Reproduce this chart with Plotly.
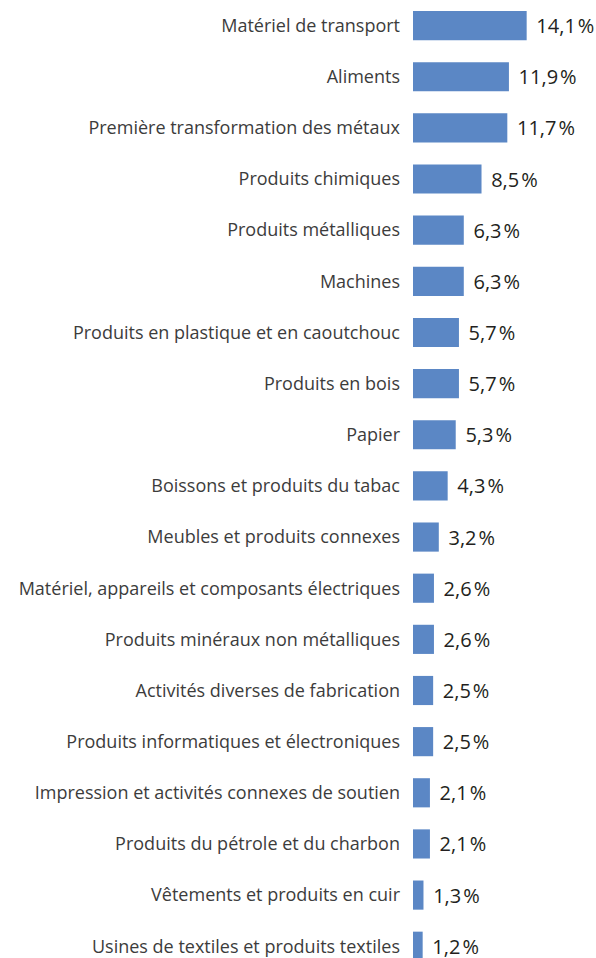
import plotly.graph_objects as go

categories = [
    "Matériel de transport",
    "Aliments",
    "Première transformation des métaux",
    "Produits chimiques",
    "Produits métalliques",
    "Machines",
    "Produits en plastique et en caoutchouc",
    "Produits en bois",
    "Papier",
    "Boissons et produits du tabac",
    "Meubles et produits connexes",
    "Matériel, appareils et composants électriques",
    "Produits minéraux non métalliques",
    "Activités diverses de fabrication",
    "Produits informatiques et électroniques",
    "Impression et activités connexes de soutien",
    "Produits du pétrole et du charbon",
    "Vêtements et produits en cuir",
    "Usines de textiles et produits textiles",
]
shares = [14.1, 11.9, 11.7, 8.5, 6.3, 6.3, 5.7, 5.7, 5.3, 4.3,
          3.2, 2.6, 2.6, 2.5, 2.5, 2.1, 2.1, 1.3, 1.2]

labels = ["\u2004" + f"{v:.1f}".replace(".", ",") + "\u200a%" for v in shares]

fig = go.Figure(
    go.Bar(
        x=shares,
        y=categories,
        orientation="h",
        marker=dict(color="#5b87c5", line=dict(width=0)),
        width=0.57,
        text=labels,
        textposition="outside",
        cliponaxis=False,
        textfont=dict(family="Open Sans", size=20, color="#231f20"),
        hoverinfo="skip",
    )
)

fig.update_layout(
    width=596,
    height=958,
    margin=dict(l=413, r=0, t=0, b=0),
    paper_bgcolor="white",
    plot_bgcolor="white",
    showlegend=False,
    xaxis=dict(range=[0, 22.7], visible=False, fixedrange=True),
    yaxis=dict(
        type="category",
        range=[18.23, -0.5],
        showgrid=False,
        zeroline=False,
        showline=False,
        ticks="",
        ticklabelstandoff=12,
        tickfont=dict(family="Open Sans", size=18, color="#3c3c3c"),
        fixedrange=True,
    ),
)

fig.write_html("out.html")
